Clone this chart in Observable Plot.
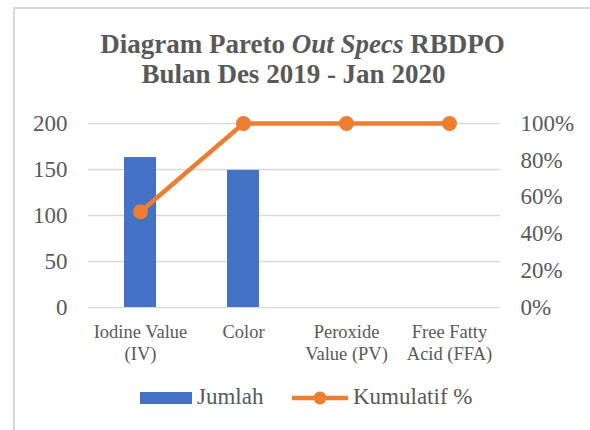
<!DOCTYPE html>
<html>
<head>
<meta charset="utf-8">
<script src="https://cdn.jsdelivr.net/npm/d3@7"></script>
<script src="https://cdn.jsdelivr.net/npm/@observablehq/plot@0.6"></script>
<style>
  body { margin: 0; background: #fff; }
  #root { position: relative; width: 590px; height: 430px; overflow: hidden; font-family: "Liberation Serif", "Times New Roman", serif; color: #595959; }
  #frame { position: absolute; left: 13px; top: 7px; width: 620px; height: 460px; border-left: 2px solid #d9d9d9; border-top: 2px solid #d9d9d9; }
  .title { position: absolute; width: 600px; text-align: center; font-weight: bold; font-size: 27px; line-height: 30px; white-space: nowrap; }
  #chart { position: absolute; top: 100px; left: 0; }
  #legend { position: absolute; top: 384px; left: 0; width: 590px; height: 26px; font-size: 23px; line-height: 26px; }
  .lg { position: absolute; top: 0; white-space: nowrap; }
</style>
</head>
<body>
<div id="root">
  <div id="frame"></div>
  <div class="title" style="top:29px;left:2.5px">Diagram Pareto <i>Out Specs</i> RBDPO</div>
  <div class="title" style="top:59px;left:-6.5px">Bulan Des 2019 - Jan 2020</div>
  <div id="chart"></div>
  <div id="legend">
    <div class="lg" style="left:140px;top:8px;width:52px;height:12px;background:#4472C4"></div>
    <div class="lg" style="left:197px">Jumlah</div>
    <svg class="lg" style="left:292px" width="56" height="26"><line x1="0" x2="56" y1="14" y2="14" stroke="#ED7D31" stroke-width="4.5"/><circle cx="28" cy="14" r="6.5" fill="#ED7D31"/></svg>
    <div class="lg" style="left:353px">Kumulatif %</div>
  </div>
</div>
<script>
const categories = ["Iodine Value (IV)", "Color", "Peroxide Value (PV)", "Free Fatty Acid (FFA)"];
const tickLabels = ["Iodine Value\n(IV)", "Color", "Peroxide\nValue (PV)", "Free Fatty\nAcid (FFA)"];
const jumlah = [163, 149, 0, 0];
const kumulatif = [52, 100, 100, 100];
const leftTicks = [0, 50, 100, 150, 200];
const rightTicks = [0, 20, 40, 60, 80, 100];

const data = categories.map((c, i) => ({c, j: jumlah[i], k: kumulatif[i]}));
const pct = d => d.k * 2; // map 0-100% onto the 0-200 left scale

const chart = Plot.plot({
  width: 590,
  height: 270,
  marginTop: 23,
  marginBottom: 63,
  marginLeft: 88,
  marginRight: 90,
  style: {fontFamily: '"Liberation Serif", "Times New Roman", serif', color: "#595959", background: "transparent", overflow: "visible"},
  x: {domain: categories, paddingInner: 0.69, paddingOuter: 0.345, axis: null, label: null},
  y: {domain: [0, 200], axis: null, label: null},
  marks: [
    Plot.gridY(leftTicks, {stroke: "#d9d9d9", strokeOpacity: 1, strokeWidth: 1.5}),
    Plot.barY(data, {x: "c", y: "j", fill: "#4472C4"}),
    Plot.line(data, {x: "c", y: pct, stroke: "#ED7D31", strokeWidth: 4.5}),
    Plot.dot(data, {x: "c", y: pct, r: 7.5, fill: "#ED7D31"}),
    Plot.axisY(leftTicks, {anchor: "left", tickSize: 0, tickPadding: 21, fontSize: 23, label: null}),
    Plot.axisY(rightTicks.map(t => t * 2), {anchor: "right", tickSize: 0, tickPadding: 20, fontSize: 23, label: null, tickFormat: d => (d / 2) + "%"}),
    Plot.axisX({anchor: "bottom", tickSize: 0, tickPadding: 15, fontSize: 18.5, lineHeight: 1.2, label: null, tickFormat: d => tickLabels[categories.indexOf(d)]})
  ]
});
document.getElementById("chart").appendChild(chart);
</script>
</body>
</html>
